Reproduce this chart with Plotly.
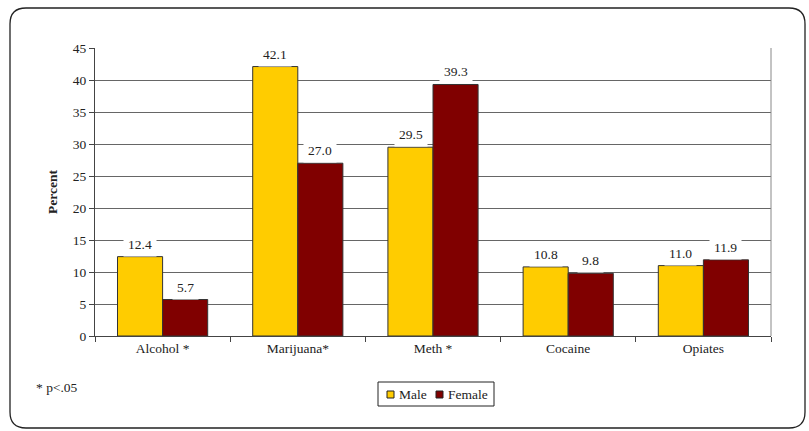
import plotly.graph_objects as go

categories = ["Alcohol *", "Marijuana*", "Meth *", "Cocaine", "Opiates"]
male = [12.4, 42.1, 29.5, 10.8, 11.0]
female = [5.7, 27.0, 39.3, 9.8, 11.9]
y_ticks = [0, 5, 10, 15, 20, 25, 30, 35, 40, 45]
series_names = ["Male", "Female"]
series_colors = ["#FFCC00", "#800000"]

W, H = 809, 431
L, R, T, B = 95, 38, 48, 95
pw, ph = W - L - R, H - T - B

FONT = "Liberation Serif"
TXT = "#222222"
FS = 13.5

fig = go.Figure()
for name, vals, col in zip(series_names, (male, female), series_colors):
    fig.add_trace(go.Bar(name=name, x=categories, y=vals, showlegend=False,
                         marker=dict(color=col, line=dict(color="#333333", width=1))))

# value labels with white background
for vals, shift in ((male, -22.5), (female, 22.5)):
    for c, v in zip(categories, vals):
        fig.add_annotation(x=c, y=v, text=f"{v:.1f}", showarrow=False,
                           xshift=shift, yanchor="bottom", yshift=0,
                           bgcolor="white", borderpad=4,
                           font=dict(family=FONT, size=FS, color=TXT))

def px(x):
    return (x - L) / pw

def py(y):
    return (H - B - y) / ph

# rounded outer border
x0, x1, y0, y1, r = 10, 805, 8, 428, 16
path = (f"M {px(x0+r)},{py(y0)} L {px(x1-r)},{py(y0)} Q {px(x1)},{py(y0)} {px(x1)},{py(y0+r)} "
        f"L {px(x1)},{py(y1-r)} Q {px(x1)},{py(y1)} {px(x1-r)},{py(y1)} "
        f"L {px(x0+r)},{py(y1)} Q {px(x0)},{py(y1)} {px(x0)},{py(y1-r)} "
        f"L {px(x0)},{py(y0+r)} Q {px(x0)},{py(y0)} {px(x0+r)},{py(y0)} Z")
fig.add_shape(type="path", path=path, xref="paper", yref="paper",
              line=dict(color="#222222", width=1.3), layer="below")

# plot-area right border
fig.add_shape(type="line", xref="paper", yref="paper", x0=1, x1=1, y0=0, y1=1,
              line=dict(color="#888888", width=1))

# compact legend box
fig.add_shape(type="rect", xref="paper", yref="paper",
              x0=px(378), x1=px(494), y0=py(382), y1=py(406),
              line=dict(color="#222222", width=1), fillcolor="white")
leg_sq_x = [387, 436]
leg_txt_x = [397, 446]
for name, col, sx, tx in zip(series_names, series_colors, leg_sq_x, leg_txt_x):
    fig.add_shape(type="rect", xref="paper", yref="paper",
                  x0=px(sx), x1=px(sx + 7), y0=py(391), y1=py(398),
                  line=dict(color="#222222", width=1), fillcolor=col)
    fig.add_annotation(text=name, xref="paper", yref="paper", x=px(tx), y=py(394.5),
                       xanchor="left", yanchor="middle", showarrow=False,
                       font=dict(family=FONT, size=FS, color=TXT))

fig.add_annotation(text="* p<.05", xref="paper", yref="paper",
                   x=px(34), y=py(387), xanchor="left", yanchor="middle",
                   showarrow=False, font=dict(family=FONT, size=FS, color=TXT))

fig.update_layout(
    width=W, height=H,
    margin=dict(l=L, r=R, t=T, b=B),
    paper_bgcolor="white", plot_bgcolor="white",
    barmode="group", bargap=0.333, bargroupgap=0,
    font=dict(family=FONT, size=FS, color=TXT),
    showlegend=False,
    xaxis=dict(showline=True, linecolor="#444444", linewidth=1,
               ticks="outside", ticklen=5, tickcolor="#444444",
               tickson="boundaries", showgrid=False,
               tickfont=dict(family=FONT, size=FS, color=TXT)),
    yaxis=dict(range=[0, 45], tickvals=y_ticks, showline=True, linecolor="#444444",
               linewidth=1, ticks="outside", ticklen=5, tickcolor="#444444",
               showgrid=True, gridcolor="#666666", gridwidth=1, zeroline=False,
               tickfont=dict(family=FONT, size=FS, color=TXT),
               title=dict(text="<b>Percent</b>", standoff=12,
                          font=dict(family=FONT, size=FS, color=TXT))),
)

fig.write_html("out.html", config={"displayModeBar": False},
               post_script="document.body.style.margin='0';document.body.style.padding='0';")
